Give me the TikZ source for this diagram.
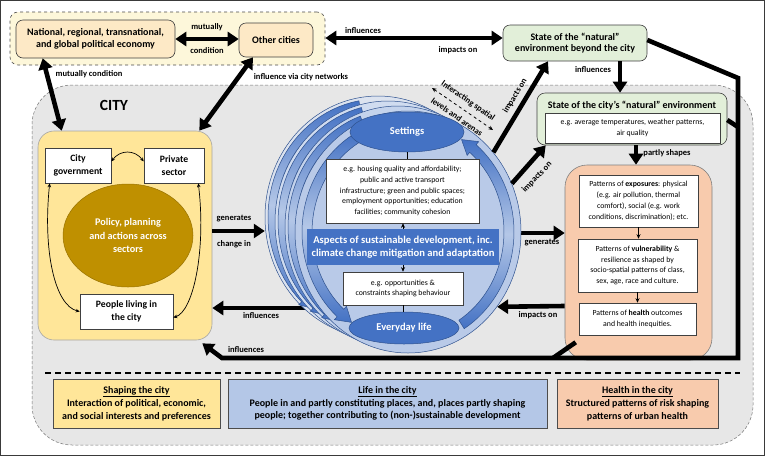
\documentclass[tikz,border=0pt]{standalone}
\usepackage{fontspec}
\setmainfont{Carlito}
\usetikzlibrary{arrows.meta,shapes.geometric,calc}

\definecolor{framec}{HTML}{3A3A3A}
\definecolor{topfill}{HTML}{FDF7DA}
\definecolor{peach}{HTML}{FDE9C6}
\definecolor{envgreen}{HTML}{E2EFD9}
\definecolor{cityfill}{HTML}{E7E7E7}
\definecolor{shapeyel}{HTML}{FFE699}
\definecolor{policygold}{HTML}{BF9000}
\definecolor{orangefill}{HTML}{F8CBAD}
\definecolor{midblue}{HTML}{4472C4}
\definecolor{dblue}{HTML}{2F528F}
\definecolor{lblue}{HTML}{B4C7E7}
\definecolor{cthree}{HTML}{DCE3EF}
\definecolor{ctwo}{HTML}{D0DCF0}
\definecolor{cone}{HTML}{C4D3EC}
\definecolor{czero}{HTML}{B9CAE8}

% band arrow: cx cy rx ry startangle endangle halfwidth tipangle
\newcommand\bandarrow[8]{%
 \path[bandstyle]
  plot[domain=#5:#6,samples=36] ({#1+(#3+#7)*cos(\x)},{#2+(#4+#7)*sin(\x)})
  -- ({#1+(#3+#7+4)*cos(#6)},{#2+(#4+#7+4)*sin(#6)})
  -- ({#1+(#3)*cos(#6+(#8))},{#2+(#4)*sin(#6+(#8))})
  -- ({#1+(#3-#7-4)*cos(#6)},{#2+(#4-#7-4)*sin(#6)})
  -- plot[domain=#6:#5,samples=36] ({#1+(#3-#7)*cos(\x)},{#2+(#4-#7)*sin(\x)})
  -- cycle;}

\begin{document}
\begin{tikzpicture}[x=1pt,y=-1pt,
  ttl/.style={font=\bfseries\fontsize{10}{11.7}\selectfont, align=center},
  ttltwo/.style={font=\bfseries\fontsize{9.7}{12.7}\selectfont, align=center},
  det/.style={font=\fontsize{7.8}{10.8}\selectfont, align=center},
  lbl/.style={font=\bfseries\fontsize{8.5}{9}\selectfont, inner sep=0pt},
  boxline/.style={draw=black!75, line width=0.6pt, inner sep=0pt},
  wbox/.style={draw=black!75, line width=0.6pt, fill=white, inner sep=0pt},
  botbox/.style={draw=black!70, line width=0.7pt, inner sep=0pt, font=\bfseries\fontsize{10}{12.8}\selectfont, align=center},
  bigarrow/.style={line width=4.6pt, -{Triangle[length=11pt,width=14pt]}},
  bigdbl/.style={line width=4.6pt, {Triangle[length=11pt,width=14pt]}-{Triangle[length=11pt,width=14pt]}},
  bigline/.style={line width=4.6pt},
  smallarr/.style={line width=0.8pt, -{Stealth[length=4.5pt,width=4pt]}},
  smalldbl/.style={line width=0.7pt, {Stealth[length=4pt,width=3.5pt]}-{Stealth[length=4pt,width=3.5pt]}},
  bandstyle/.style={draw=dblue, line width=0.5pt, top color=midblue, bottom color=midblue, middle color=lblue},
  layer/.style={ellipse, draw=dblue, line width=0.5pt, minimum width=226pt, minimum height=242pt, inner sep=0pt}
]
\useasboundingbox (0,0) rectangle (765,456);
\fill[white] (0,0) rectangle (765,456);
\draw[line width=1.2pt, draw=framec] (0.6,0.6) rectangle (764.4,455.4);

% ---------- top group ----------
\node[draw=black!70, dashed, line width=0.6pt, fill=topfill, rounded corners=8pt, minimum width=315pt, minimum height=53pt, inner sep=0pt] (topdash) at (167.5,38.5) {};
\node[boxline, fill=peach, rounded corners=7pt, minimum width=159pt, minimum height=38pt, ttl] (nat) at (95.5,39) {National, regional, transnational,\\and global political economy};
\node[boxline, fill=peach, rounded corners=7pt, minimum width=74pt, minimum height=34pt, ttl] (oth) at (276,40) {Other cities};
\node[boxline, fill=envgreen, rounded corners=7pt, minimum width=144pt, minimum height=36pt, ttl] (beyond) at (575,43) {State of the “natural”\\environment beyond the city};

% ---------- city region ----------
\node[draw=black!55, densely dashed, line width=0.5pt, fill=cityfill, rounded corners=40pt, minimum width=721pt, minimum height=360pt, inner sep=0pt] (city) at (392.5,265) {};
\node[font=\bfseries\fontsize{15.5}{18}\selectfont] (citylbl) at (114,105) {CITY};

% ---------- left: shaping ----------
\node[draw=black!35, line width=0.6pt, fill=shapeyel, rounded corners=16pt, minimum width=174pt, minimum height=209pt, inner sep=0pt] (yel) at (125,235.5) {};
\node[wbox, minimum width=66pt, minimum height=35pt, ttltwo] (gov) at (78,165.5) {City\\government};
\node[wbox, minimum width=60pt, minimum height=35pt, ttltwo] (priv) at (174,165.5) {Private\\sector};
\node[ellipse, fill=policygold, draw=policygold!80!black, line width=0.5pt, minimum width=130pt, minimum height=103pt, inner sep=0pt, text=white, font=\bfseries\fontsize{10.2}{13.3}\selectfont, align=center] (policy) at (128,235.5) {Policy, planning\\and actions across\\sectors};
\node[wbox, minimum width=93pt, minimum height=35pt, ttltwo] (people) at (126.5,311.5) {People living in\\the city};
\draw[smalldbl] ([yshift=4pt]gov.east) .. controls +(9,-12) and +(-9,-12) .. ([yshift=4pt]priv.west);
\draw[smalldbl] ([xshift=5pt]gov.south west) .. controls +(-7,67) and +(-25,-6) .. (people.west);
\draw[smalldbl] ([xshift=-6pt]priv.south east) .. controls +(8,67) and +(20,-6) .. ([yshift=-6pt]people.east);

% ---------- right: environment & health ----------
\node[boxline, fill=envgreen, rounded corners=8pt, minimum width=190pt, minimum height=52pt] (env) at (632,119) {};
\node[ttl, inner sep=0pt] (envttl) at (632,106) {State of the city’s “natural” environment};
\node[wbox, minimum width=175pt, minimum height=30pt, det] (envdet) at (632.5,128) {e.g. average temperatures, weather patterns,\\air quality};
\node[draw=black!50, line width=0.6pt, fill=orangefill, rounded corners=22pt, minimum width=147pt, minimum height=195pt, inner sep=0pt] (orng) at (638.5,262.5) {};
\node[wbox, minimum width=119pt, minimum height=52pt, det] (exp) at (638.5,201) {Patterns of \textbf{exposures}: physical\\(e.g. air pollution, thermal\\comfort), social (e.g. work\\conditions, discrimination); etc.};
\node[wbox, minimum width=119pt, minimum height=53pt, det] (vul) at (637.5,265.5) {Patterns of \textbf{vulnerability} \&\\resilience as shaped by\\socio-spatial patterns of class,\\sex, age, race and culture.};
\node[wbox, minimum width=117pt, minimum height=32pt, det] (hea) at (637.5,319) {Patterns of \textbf{health} outcomes\\and health inequities.};
\draw[smallarr] (exp.south) -- (exp.south |- vul.north);
\draw[smallarr] (vul.south) -- (vul.south |- hea.north);

% ---------- connectors drawn under the circles ----------
\coordinate (cc) at (408,232);
\draw[bigarrow] ([yshift=-72.5pt]yel.east -| cc) -- ([yshift=-72.5pt]yel.east);
\draw[bigarrow] ([yshift=29.5pt]orng.west -| cc) -- ([yshift=29.5pt]orng.west);

% ---------- central circles ----------
\node[layer, fill=cthree] (c3) at (378,217) {};
\bandarrow{378}{217}{106}{114}{-100}{-226}{4}{-8}
\node[layer, fill=ctwo] (c2) at (388,222) {};
\bandarrow{388}{222}{106}{114}{-104}{-227}{4}{-8}
\node[layer, fill=cone] (c1) at (398,227) {};
\bandarrow{398}{227}{106}{114}{-110}{-228}{4}{-8}
\node[layer, fill=czero] (c0) at (408,232) {};
\bandarrow{408}{232}{101}{109}{-118}{-228}{5}{-8}
\bandarrow{408}{232}{101}{109}{58}{-50}{5}{-8}

\node[ellipse, fill=midblue, draw=dblue, line width=0.5pt, minimum width=114pt, minimum height=40pt, inner sep=0pt, text=white, font=\bfseries\fontsize{10.5}{12}\selectfont] (settings) at (407,132) {Settings};
\node[wbox, minimum width=153pt, minimum height=64pt, det] (setdet) at (402.5,191) {e.g. housing quality and affordability;\\public and active transport\\infrastructure; green and public spaces;\\employment opportunities; education\\facilities; community cohesion};
\node[fill=midblue, minimum width=192pt, minimum height=36pt, inner sep=0pt, text=white, font=\bfseries\fontsize{10.6}{13.3}\selectfont, align=center] (aspects) at (403,247) {Aspects of sustainable development, inc.\\climate change mitigation and adaptation};
\node[wbox, minimum width=120pt, minimum height=33pt, det] (opp) at (403,288.5) {e.g. opportunities \&\\constraints shaping behaviour};
\node[ellipse, fill=midblue, draw=dblue, line width=0.5pt, minimum width=110pt, minimum height=32pt, inner sep=0pt, text=white, font=\bfseries\fontsize{10.5}{12}\selectfont] (everyday) at (404,328) {Everyday life};
\draw[line width=0.7pt] (settings.south) -- (settings.south |- setdet.north);
\draw[smallarr] (aspects.north) -- (aspects.north |- setdet.south);
\draw[smallarr] (aspects.south) -- (aspects.south |- opp.north);
\draw[line width=0.7pt] (opp.south) -- (opp.south |- everyday.north);

% ---------- thick connectors ----------
\draw[bigdbl] ([xshift=27pt]nat.south west) -- ([xshift=24pt]yel.north west);
\draw[bigdbl] (nat.east) -- (nat.east -| oth.west);
\draw[bigdbl] ([xshift=-23pt]oth.south) -- ([xshift=-13pt]yel.north east);
\draw[bigdbl] ([yshift=5pt]beyond.west) -- ([yshift=5pt]beyond.west -| topdash.east);
\draw[bigarrow] ([xshift=45pt]beyond.south) -- ([xshift=45pt]beyond.south |- env.north);
\draw[bigarrow] ([xshift=4pt]env.south) -- ([xshift=4pt]env.south |- orng.north);
\draw[bigarrow] ([yshift=4.5pt]yel.east) -- ([yshift=4.5pt]yel.east -| c3.west);
\draw[bigarrow] ([yshift=-43.5pt]orng.west) -- (c0.-40);
\draw[bigarrow] (c0.43) -- ([xshift=-27pt]beyond.south);
\draw[bigarrow] (c0.25) -- ([xshift=9pt]env.south west);

\coordinate (fbA) at (738,78);
\coordinate (fbB) at (738,358);
\coordinate (fbC) at (222,358);
\coordinate (fbD) at (553,358);
\draw[bigarrow, line join=miter] ([yshift=3pt]beyond.east) -- (fbA) -- (fbB) -- (fbC) -- ([xshift=-10pt,yshift=-3pt]yel.south east);
\draw[bigline] ([yshift=-1pt]env.east) -- ([yshift=-8pt]env.east -| fbA);
\draw[bigline] ([xshift=11pt,yshift=18pt]orng.south west) -- (fbD);

% dashed interacting arrow
\coordinate (ia) at (432,88);
\coordinate (ib) at (493,130);
\draw[dashed, line width=0.8pt, {Stealth[length=4.5pt,width=4pt]}-{Stealth[length=4.5pt,width=4pt]}] (ia) -- (ib);

% ---------- labels ----------
\node[lbl] (l1) at (207,27) {mutually};
\node[lbl] (l2) at (207,51) {condition};
\node[lbl] (l3) at (89,74) {mutually condition};
\node[lbl] (l4) at (301,77) {influence via city networks};
\node[lbl] (l5) at (363,31) {influences};
\node[lbl] (l6) at (458,50) {impacts on};
\node[lbl] (l7) at (593,70) {influences};
\node[lbl] (l8) at (667,153) {partly shapes};
\node[lbl] (l9) at (234,219) {generates};
\node[lbl] (l10) at (234,244) {change in};
\node[lbl] (l11) at (261,316) {influences};
\node[lbl] (l12) at (542,243) {generates};
\node[lbl] (l13) at (538,315) {impacts on};
\node[lbl] (l14) at (246,350) {influences};
\node[lbl, rotate=59] (l15) at (515,96) {impacts on};
\node[lbl, rotate=46] (l16) at (537,177) {impacts on};
\node[lbl, rotate=-35] (l17) at (468,101) {Interacting spatial};
\node[lbl, rotate=-35] (l18) at (457,117) {levels and arenas};

% ---------- bottom legend ----------
\draw[line width=1.1pt, dash pattern=on 6pt off 4pt] (45,373) -- (740,373);
\node[botbox, fill=shapeyel, minimum width=167pt, minimum height=49pt] (shapec) at (136.5,403.5) {\underline{Shaping the city}\\Interaction of political, economic,\\and social interests and preferences};
\node[botbox, fill=lblue, minimum width=319pt, minimum height=49pt] (lifec) at (387.5,403.5) {\underline{Life in the city}\\People in and partly constituting places, and, places partly shaping\\people; together contributing to (non-)sustainable development};
\node[botbox, fill=orangefill, minimum width=161pt, minimum height=49pt] (healthc) at (637.5,403.5) {\underline{Health in the city}\\Structured patterns of risk shaping\\patterns of urban health};
\end{tikzpicture}
\end{document}
